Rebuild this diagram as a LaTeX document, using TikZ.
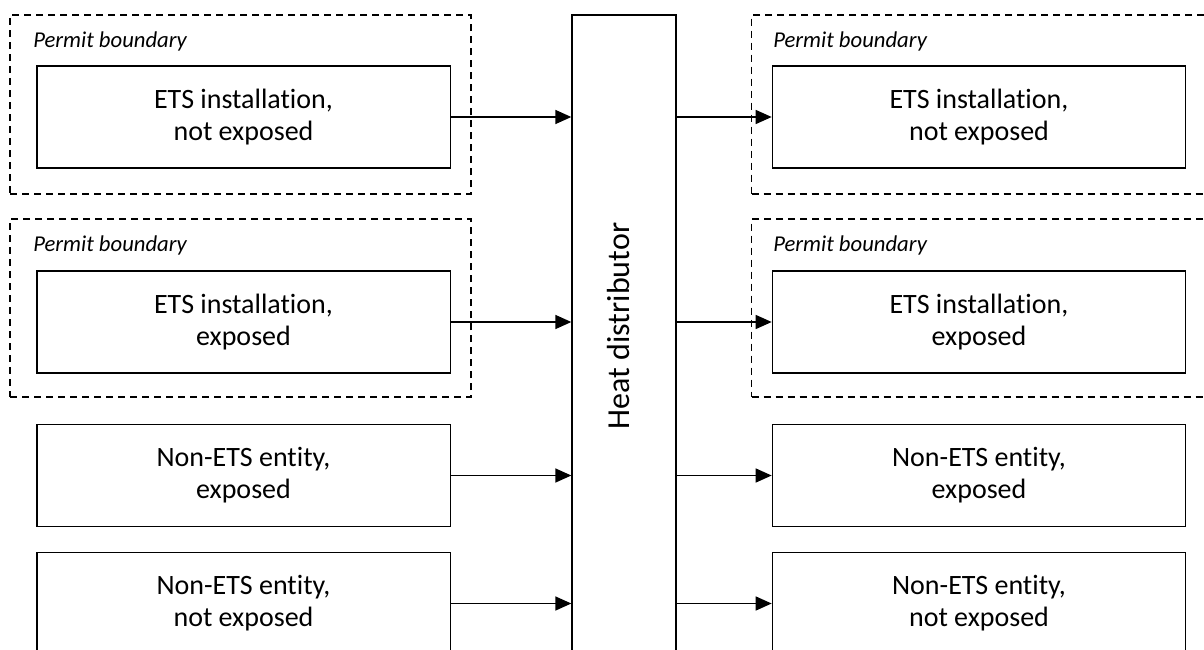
\documentclass[tikz,border=0pt]{standalone}
\usepackage{fontspec}
\setmainfont{Carlito}[Ligatures=NoCommon]
\usetikzlibrary{arrows.meta}
\begin{document}
\begin{tikzpicture}[x=0.75pt,y=-0.75pt,
  ent/.style={draw, line width=1pt, minimum width=310pt, minimum height=76.5pt,
    inner sep=0pt, align=center, font=\fontsize{21pt}{24pt}\selectfont},
  perm/.style={draw, line width=0.8pt, dash pattern=on 5.5pt off 3.5pt, inner sep=0pt},
  plabel/.style={anchor=west, inner sep=0pt, font=\fontsize{17pt}{20pt}\selectfont\itshape},
  arr/.style={line width=1.1pt, -{Triangle[length=12pt,width=10.5pt]}}]
\useasboundingbox (0,0) rectangle (1204,650);
\clip (0,0) rectangle (1204,650);
% heat distributor
\node[draw, line width=1pt, minimum width=78pt, minimum height=487.5pt, inner sep=0pt] (hd) at (624,340) {};
\node[rotate=90, inner sep=0pt, font=\fontsize{24pt}{28pt}\selectfont] (hdl) at (619,326) {Heat distributor};
% left permit boundaries
\node[perm, minimum width=345.75pt, minimum height=134.25pt] (pl1) at (240.5,104.5) {};
\node[perm, minimum width=345.75pt, minimum height=133.5pt] (pl2) at (240.5,308) {};
\node[plabel] (tl1) at (33,41) {Permit boundary};
\node[plabel] (tl2) at (33,245) {Permit boundary};
% right permit boundaries
\node[perm, minimum width=350pt, minimum height=134.25pt] (pr1) at (985,104.5) {};
\node[perm, minimum width=350pt, minimum height=133.5pt] (pr2) at (985,308) {};
\node[plabel] (tr1) at (773,41) {Permit boundary};
\node[plabel] (tr2) at (773,245) {Permit boundary};
% left entities
\node[ent] (a1) at (243.5,117) {ETS installation,\\not exposed};
\node[ent] (a2) at (243.5,322) {ETS installation,\\exposed};
\node[ent] (a3) at (243.5,475.5) {Non-ETS entity,\\exposed};
\node[ent] (a4) at (243.5,603.5) {Non-ETS entity,\\not exposed};
% right entities
\node[ent] (b1) at (979,117) {ETS installation,\\not exposed};
\node[ent] (b2) at (979,322) {ETS installation,\\exposed};
\node[ent] (b3) at (979,475.5) {Non-ETS entity,\\exposed};
\node[ent] (b4) at (979,603.5) {Non-ETS entity,\\not exposed};
% arrows
\foreach \n in {1,2,3,4}{
  \draw[arr] (a\n.east) -- (a\n.east -| hd.west);
  \draw[arr] (hd.east |- b\n.west) -- (b\n.west);
}
\end{tikzpicture}
\end{document}
